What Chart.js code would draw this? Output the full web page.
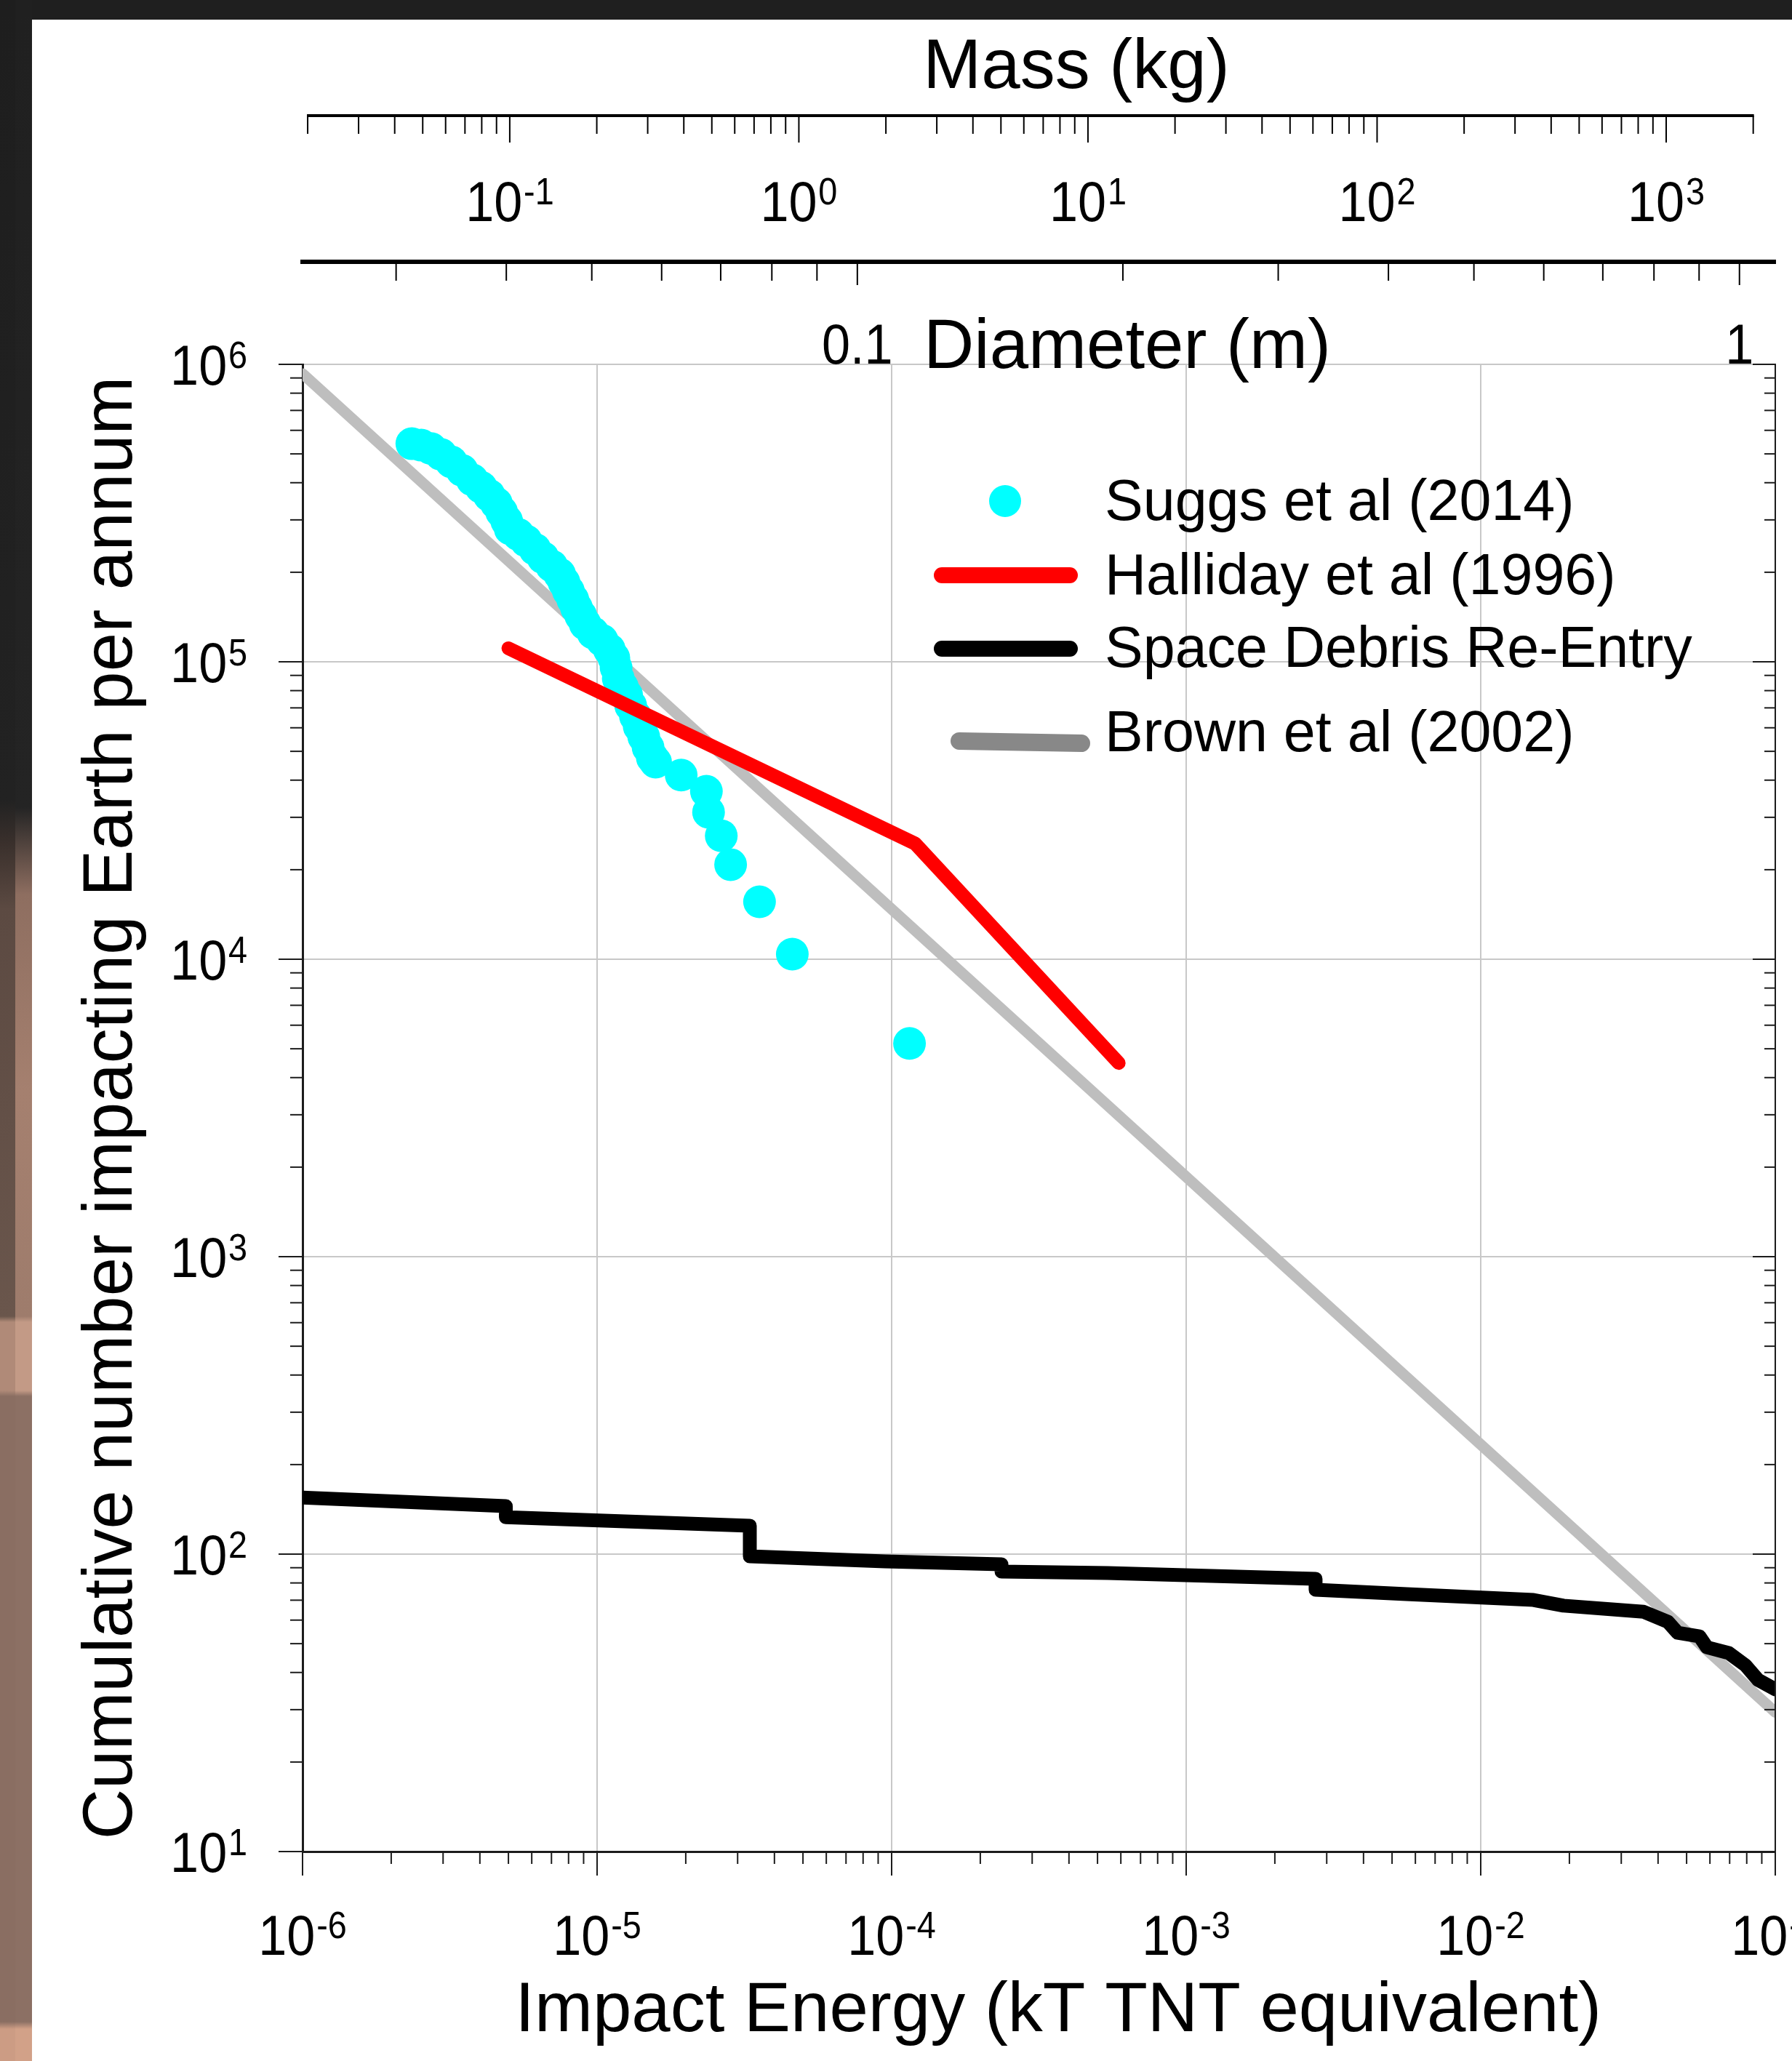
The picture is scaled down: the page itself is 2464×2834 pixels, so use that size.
<!DOCTYPE html>
<html>
<head>
<meta charset="utf-8">
<title>Cumulative impact flux vs impact energy</title>
<script src="https://cdn.jsdelivr.net/npm/chart.js@4.4.1/dist/chart.umd.min.js"></script>
<style>
  html, body { margin: 0; padding: 0; background: #ffffff; }
  #stage { position: relative; width: 2464px; height: 2834px; overflow: hidden; background: #ffffff; }
  #edgeTop { position: absolute; left: 0; top: 0; width: 2464px; height: 27px; background: #1f1f1f; }
  #edgeA { position: absolute; left: 0; top: 0; width: 21px; height: 2834px;
    background: linear-gradient(to bottom, #1e1e1e 0px, #222222 1100px, #3a302c 1160px, #5c4a42 1250px,
      #6a564c 1810px, #b08a78 1818px, #b08a78 1912px, #8a6e62 1920px, #8a6e62 2780px, #cc9c84 2790px); }
  #edgeB { position: absolute; left: 21px; top: 0; width: 23px; height: 2834px;
    background: linear-gradient(to bottom, #202020 0px, #242424 1110px, #8e6e60 1230px, #a5806f 1500px,
      #9e7c6c 1810px, #c39a86 1818px, #c39a86 1912px, #8c7064 1920px, #8c7064 2780px, #d2a188 2790px); }
  #plot { position: absolute; left: 0; top: 0; width: 2464px; height: 2834px; }
</style>
</head>
<body>
<div id="stage">
  <div id="edgeTop"></div>
  <div id="edgeA"></div>
  <div id="edgeB"></div>
  <canvas id="plot" width="2464" height="2834"></canvas>
</div>
<script>
// --- data (energy in kT TNT, count = cumulative impacts per annum) ---

// Suggs et al (2014)
const suggsEnergy = [2.35e-6, 2.53e-6, 2.73e-6, 2.95e-6, 3.20e-6, 3.48e-6, 3.77e-6, 4.04e-6, 4.30e-6, 4.55e-6,
  4.74e-6, 4.93e-6, 5.07e-6, 5.40e-6, 5.74e-6, 6.15e-6, 6.55e-6, 7.01e-6, 7.46e-6, 7.72e-6,
  7.99e-6, 8.27e-6, 8.51e-6, 8.80e-6, 9.11e-6, 9.69e-6, 1.04e-5, 1.10e-5, 1.14e-5, 1.16e-5,
  1.18e-5, 1.22e-5, 1.26e-5, 1.30e-5, 1.35e-5, 1.39e-5, 1.44e-5, 1.49e-5, 1.54e-5, 1.58e-5,
  1.93e-5, 2.35e-5, 2.39e-5, 2.64e-5, 2.84e-5, 3.56e-5, 4.60e-5, 1.15e-4];
const suggsCount = [5.41e5, 5.35e5, 5.21e5, 4.98e5, 4.70e5, 4.40e5, 4.09e5, 3.86e5, 3.63e5, 3.41e5,
  3.19e5, 2.98e5, 2.80e5, 2.68e5, 2.55e5, 2.39e5, 2.24e5, 2.10e5, 1.97e5, 1.85e5,
  1.73e5, 1.62e5, 1.52e5, 1.43e5, 1.34e5, 1.25e5, 1.18e5, 1.10e5, 1.03e5, 9.56e4,
  8.79e4, 8.21e4, 7.72e4, 7.13e4, 6.56e4, 6.06e4, 5.60e4, 5.15e4, 4.76e4, 4.60e4,
  4.16e4, 3.67e4, 3.12e4, 2.60e4, 2.08e4, 1.56e4, 1.04e4, 5.21e3];

// Halliday et al (1996)
const hallidayEnergy = [5.0e-6, 1.2e-4, 5.9e-4];
const hallidayCount = [1.11e5, 2.45e4, 4.48e3];

// Space debris re-entry (steps repeat the energy value)
const debrisEnergy = [1e-6, 4.9e-6, 4.9e-6, 3.3e-5, 3.3e-5, 9.5e-5, 2.36e-4, 2.36e-4, 5.4e-4, 2.75e-3,
  2.75e-3, 5.6e-3, 0.0151, 0.0191, 0.0357, 0.0432, 0.0466, 0.0553, 0.0586, 0.0695,
  0.0792, 0.0873, 0.1];
const debrisCount = [155, 145, 133, 124.6, 98.3, 94.5, 92.4, 87.4, 86.4, 82.6,
  75.9, 73.4, 70.1, 67.1, 64.0, 59.2, 54.4, 52.9, 48.6, 46.5,
  42.3, 37.8, 35.1];

// Brown et al (2002)
const brownEnergy = [1e-6, 0.1];
const brownCount = [9.3e5, 29.4];

// axis ticks
const energyTicks = [1e-6, 1e-5, 1e-4, 1e-3, 1e-2, 1e-1];
const energyExp = ['-6', '-5', '-4', '-3', '-2', '-1'];
const countTicks = [1e1, 1e2, 1e3, 1e4, 1e5, 1e6];
const countExp = ['1', '2', '3', '4', '5', '6'];
const massTicks = [0.1, 1, 10, 100, 1000];
const massExp = ['-1', '0', '1', '2', '3'];
const diamTicks = [0.1, 1];
const diamLabels = ['0.1', '1'];

// secondary (top) axis ranges, matched to the plot width
const MASS_MIN = 0.0192, MASS_MAX = 2384;   // scale ends
const MASS_FROM = 0.02, MASS_TO = 2000;     // drawn part of the axis
const DIAM_MIN = 0.0235, DIAM_MAX = 1.098;

// --- look ---
const FONT = "'Liberation Sans', Arial, Helvetica, sans-serif";
const INK = '#1c1c1c';
const GRID = '#c8c8c8';
const TICK_PX = 78, SUP_PX = 52, SQUEEZE = 0.9, SUP_GAP = 2, SUP_RISE = -23;
const MINOR_TICK = 17;

Chart.defaults.font.family = FONT;
Chart.defaults.color = '#000';

function xy(xs, ys) {
  return xs.map((v, i) => ({ x: v, y: ys[i] }));
}

// 2..9 x 10^k inside [lo, hi]
function minorsBetween(lo, hi) {
  const out = [];
  for (let k = Math.floor(Math.log10(lo)); k <= Math.ceil(Math.log10(hi)); k++) {
    for (let m = 2; m <= 9; m++) {
      const v = m * Math.pow(10, k);
      if (v >= lo * 0.999 && v <= hi * 1.001) out.push(v);
    }
  }
  return out;
}

// "10" with a raised exponent
function powerLabel(ctx, exp, x, baseline, align) {
  const base = `${TICK_PX}px ${FONT}`;
  const sup = `${SUP_PX}px ${FONT}`;
  ctx.font = base;
  const wb = ctx.measureText('10').width;
  ctx.font = sup;
  const ws = ctx.measureText(exp).width;
  const total = (wb + SUP_GAP + ws) * SQUEEZE;
  const left = align === 'right' ? x - total : x - total / 2;
  ctx.save();
  ctx.translate(left, baseline);
  ctx.scale(SQUEEZE, 1);
  ctx.textAlign = 'left';
  ctx.textBaseline = 'alphabetic';
  ctx.font = base;
  ctx.fillText('10', 0, 0);
  ctx.font = sup;
  ctx.fillText(exp, wb + SUP_GAP, SUP_RISE);
  ctx.restore();
}

function plainLabel(ctx, text, x, baseline) {
  ctx.save();
  ctx.translate(x, baseline);
  ctx.scale(SQUEEZE, 1);
  ctx.font = `${TICK_PX}px ${FONT}`;
  ctx.textAlign = 'center';
  ctx.textBaseline = 'alphabetic';
  ctx.fillText(text, 0, 0);
  ctx.restore();
}

function seg(ctx, x1, y1, x2, y2) {
  ctx.beginPath();
  ctx.moveTo(x1, y1);
  ctx.lineTo(x2, y2);
  ctx.stroke();
}

// minor ticks, inward right frame, tick labels and the two top axes
const frameDecor = {
  id: 'frameDecor',
  afterDraw(chart) {
    const { ctx, chartArea: a } = chart;
    const { x, y, mass, diam } = chart.scales;
    ctx.save();
    ctx.lineCap = 'butt';
    ctx.strokeStyle = INK;
    ctx.lineWidth = 2;

    minorsBetween(x.min, x.max).forEach(v => {
      const px = x.getPixelForValue(v);
      seg(ctx, px, a.bottom, px, a.bottom + MINOR_TICK);
    });
    minorsBetween(y.min, y.max).forEach(v => {
      const py = y.getPixelForValue(v);
      seg(ctx, a.left - MINOR_TICK, py, a.left, py);
      seg(ctx, a.right - 15, py, a.right, py);
    });
    seg(ctx, a.right, a.top - 1, a.right, a.bottom);
    countTicks.forEach(v => {
      const py = y.getPixelForValue(v);
      seg(ctx, a.right - 31, py, a.right, py);
    });

    ctx.fillStyle = '#000';
    energyTicks.forEach((v, i) => powerLabel(ctx, energyExp[i], x.getPixelForValue(v), 2688, 'center'));
    countTicks.forEach((v, i) => powerLabel(ctx, countExp[i], 340, y.getPixelForValue(v) + 28, 'right'));

    // Mass (kg)
    const massY = 159;
    ctx.strokeStyle = '#000';
    ctx.lineWidth = 4;
    seg(ctx, mass.getPixelForValue(MASS_FROM) - 1, massY, mass.getPixelForValue(MASS_TO) + 1, massY);
    ctx.lineWidth = 2;
    minorsBetween(MASS_FROM, MASS_TO).forEach(v => {
      const px = mass.getPixelForValue(v);
      seg(ctx, px, massY, px, massY + 25);
    });
    massTicks.forEach((v, i) => {
      const px = mass.getPixelForValue(v);
      seg(ctx, px, massY, px, massY + 37);
      powerLabel(ctx, massExp[i], px, 304, 'center');
    });

    // Diameter (m)
    const diamY = 360;
    ctx.lineWidth = 6;
    seg(ctx, diam.left - 3, diamY, diam.right + 1, diamY);
    ctx.lineWidth = 2;
    minorsBetween(diam.min, diam.max).forEach(v => {
      const px = diam.getPixelForValue(v);
      seg(ctx, px, diamY, px, diamY + 26);
    });
    diamTicks.forEach((v, i) => {
      const px = diam.getPixelForValue(v);
      seg(ctx, px, diamY, px, diamY + 32);
      plainLabel(ctx, diamLabels[i], px, 500);
    });

    ctx.font = `96px ${FONT}`;
    ctx.textBaseline = 'alphabetic';
    ctx.textAlign = 'center';
    ctx.fillText('Mass (kg)', 1480, 121);
    ctx.textAlign = 'left';
    ctx.fillText('Diameter (m)', 1270, 506);
    ctx.restore();
  }
};

// legend inside the plot, rows follow dataset order
const LEGEND_TEXT_X = 1519;
const LEGEND_ROWS = [
  { cx: 1382, cy: 689, r: 22, base: 715 },
  { x1: 1295, y1: 791, x2: 1471, y2: 791, w: 22, base: 817 },
  { x1: 1295, y1: 892, x2: 1471, y2: 892, w: 22, base: 917 },
  { x1: 1319, y1: 1019, x2: 1487, y2: 1022, w: 24, base: 1033 }
];
const insetLegend = {
  id: 'insetLegend',
  afterDatasetsDraw(chart) {
    const ctx = chart.ctx;
    ctx.save();
    chart.data.datasets.forEach((ds, i) => {
      const row = LEGEND_ROWS[i];
      if (ds.showLine) {
        ctx.strokeStyle = ds.legendColor || ds.borderColor;
        ctx.lineWidth = row.w;
        ctx.lineCap = 'round';
        seg(ctx, row.x1, row.y1, row.x2, row.y2);
      } else {
        ctx.fillStyle = ds.pointBackgroundColor;
        ctx.beginPath();
        ctx.arc(row.cx, row.cy, row.r, 0, Math.PI * 2);
        ctx.fill();
      }
      ctx.fillStyle = '#000';
      ctx.font = `79px ${FONT}`;
      ctx.textAlign = 'left';
      ctx.textBaseline = 'alphabetic';
      ctx.fillText(ds.label, LEGEND_TEXT_X, row.base);
    });
    ctx.restore();
  }
};

const logAxisGrid = { color: GRID, lineWidth: 2, tickLength: 33, tickColor: INK, tickWidth: 2 };

new Chart(document.getElementById('plot'), {
  type: 'scatter',
  data: {
    datasets: [
      {
        label: 'Suggs et al (2014)',
        data: xy(suggsEnergy, suggsCount),
        showLine: false,
        pointRadius: 22.5,
        pointHoverRadius: 22.5,
        pointBorderWidth: 0,
        pointBackgroundColor: '#00ffff',
        borderColor: '#00ffff',
        order: 2
      },
      {
        label: 'Halliday et al (1996)',
        data: xy(hallidayEnergy, hallidayCount),
        showLine: true,
        borderColor: '#ff0000',
        borderWidth: 19,
        borderCapStyle: 'round',
        borderJoinStyle: 'round',
        pointRadius: 0,
        order: 0
      },
      {
        label: 'Space Debris Re-Entry',
        data: xy(debrisEnergy, debrisCount),
        showLine: true,
        borderColor: '#000000',
        borderWidth: 19,
        borderCapStyle: 'round',
        borderJoinStyle: 'round',
        pointRadius: 0,
        order: 1
      },
      {
        label: 'Brown et al (2002)',
        data: xy(brownEnergy, brownCount),
        showLine: true,
        borderColor: '#bebebe',
        legendColor: '#888888',
        borderWidth: 15,
        borderCapStyle: 'round',
        pointRadius: 0,
        order: 3
      }
    ]
  },
  options: {
    responsive: false,
    animation: false,
    events: [],
    layout: { padding: { top: 501, right: 23, bottom: 0, left: 0 } },
    plugins: {
      legend: { display: false },
      tooltip: { enabled: false }
    },
    scales: {
      x: {
        type: 'logarithmic',
        position: 'bottom',
        min: 1e-6,
        max: 0.1,
        afterBuildTicks: s => { s.ticks = energyTicks.map(v => ({ value: v })); },
        afterFit: s => { s.height = 288; },
        ticks: { display: false },
        grid: logAxisGrid,
        border: { display: true, color: INK, width: 3 },
        title: {
          display: true,
          text: '  Impact Energy (kT TNT equivalent)',
          color: '#000',
          font: { size: 96 },
          padding: { top: 0, bottom: 10 }
        }
      },
      y: {
        type: 'logarithmic',
        position: 'left',
        min: 10,
        max: 1e6,
        afterBuildTicks: s => { s.ticks = countTicks.map(v => ({ value: v })); },
        afterFit: s => { s.width = 416; },
        ticks: { display: false },
        grid: logAxisGrid,
        border: { display: true, color: INK, width: 3 },
        title: {
          display: true,
          text: 'Cumulative number impacting Earth per annum',
          color: '#000',
          font: { size: 96 },
          padding: { top: 97, bottom: 0 }
        }
      },
      mass: { type: 'logarithmic', position: 'top', display: false, min: MASS_MIN, max: MASS_MAX },
      diam: { type: 'logarithmic', position: 'top', display: false, min: DIAM_MIN, max: DIAM_MAX }
    }
  },
  plugins: [insetLegend, frameDecor]
});
</script>
</body>
</html>
